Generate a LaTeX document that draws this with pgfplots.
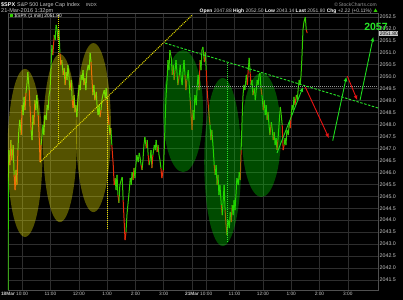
\documentclass[border=0pt]{standalone}
\usepackage{pgfplots}
\pgfplotsset{compat=1.18}
\usepackage{pgfplotstable}
\usepackage{fontspec}
\setmainfont{Liberation Sans}
\usetikzlibrary{arrows.meta}
\definecolor{gridc}{RGB}{46,46,46}
\definecolor{framec}{RGB}{80,80,80}
\definecolor{lblc}{RGB}{200,200,200}
\definecolor{upg}{RGB}{50,205,0}
\definecolor{dnr}{RGB}{230,45,10}
\definecolor{ydot}{RGB}{235,225,0}
\definecolor{gline}{RGB}{40,230,40}
\definecolor{garrow}{RGB}{30,220,30}
\definecolor{rarrow}{RGB}{235,20,20}
\definecolor{pcg}{RGB}{150,150,150}
\definecolor{ellY}{RGB}{255,250,0}
\definecolor{ellG}{RGB}{0,235,0}
\pgfplotsset{colormap={updown}{rgb255=(50,205,0) rgb255=(230,45,10)}}

\pgfplotstableread{
t p c
0 2041.08 0
1 2045.89 0
2 2046.93 0
4 2046.30 1
6 2047.35 0
8 2046.51 1
11 2047.14 0
13 2045.89 1
15 2045.26 1
17 2046.10 0
19 2045.47 1
21 2046.93 0
23 2047.77 0
25 2048.19 0
28 2047.56 1
30 2048.81 0
32 2048.39 0
34 2049.15 0
36 2048.60 1
38 2049.31 0
40 2049.65 0
42 2050.19 0
45 2049.44 1
47 2048.60 1
49 2047.77 0
51 2047.35 0
53 2048.39 0
55 2047.98 1
57 2049.02 0
59 2048.60 0
61 2049.23 0
64 2048.39 1
66 2047.56 1
68 2046.43 1
70 2047.14 0
72 2047.47 0
74 2047.98 0
76 2047.56 0
78 2048.39 0
81 2048.19 0
83 2048.81 0
85 2048.60 0
87 2049.23 0
89 2049.44 0
91 2050.27 0
93 2051.32 0
95 2050.90 1
98 2051.74 0
100 2051.53 0
102 2052.16 0
104 2051.95 0
106 2051.53 1
108 2051.95 0
110 2050.99 1
112 2050.48 1
114 2050.69 0
117 2050.07 1
119 2050.36 0
121 2049.65 1
123 2050.19 0
125 2049.86 0
127 2050.48 0
129 2050.07 0
131 2049.44 1
134 2049.86 0
136 2049.02 1
138 2048.69 1
140 2049.23 0
142 2048.52 1
144 2048.81 0
146 2048.31 0
148 2049.02 0
151 2049.65 0
153 2049.44 0
155 2050.07 0
157 2049.86 0
159 2050.27 0
161 2049.65 1
163 2049.94 0
165 2049.44 0
167 2050.19 0
170 2050.48 0
172 2050.27 0
174 2050.99 0
176 2050.61 1
178 2049.86 1
180 2049.23 0
182 2049.65 0
184 2049.02 1
187 2049.36 0
189 2048.69 0
191 2048.39 0
193 2048.81 0
195 2048.31 1
197 2048.60 0
199 2049.02 0
201 2049.23 0
204 2049.44 0
206 2049.10 0
208 2049.52 0
210 2049.02 1
212 2048.39 1
214 2047.98 0
216 2047.56 1
218 2047.85 0
220 2047.14 1
223 2046.30 1
225 2045.47 1
227 2045.76 0
229 2045.26 0
231 2045.89 0
233 2045.05 1
235 2044.72 0
237 2045.47 0
240 2045.68 0
242 2045.80 0
244 2044.84 1
246 2044.01 1
248 2043.17 1
250 2043.50 0
252 2044.21 0
254 2044.63 0
257 2045.26 0
259 2045.76 0
261 2045.47 0
263 2046.01 0
265 2045.68 1
267 2046.18 0
269 2045.76 0
271 2046.30 0
273 2046.72 0
276 2046.43 0
278 2046.81 0
280 2046.60 0
282 2046.30 1
284 2046.10 0
286 2046.51 0
288 2047.14 0
290 2047.47 0
293 2047.02 1
295 2047.35 0
297 2046.72 1
299 2046.30 0
301 2046.51 0
303 2046.93 0
305 2046.18 1
307 2046.72 0
310 2047.14 0
312 2046.93 0
314 2047.35 0
316 2046.85 1
318 2047.14 0
320 2046.72 0
322 2046.51 0
324 2046.18 1
326 2045.76 1
329 2046.10 0
331 2046.93 0
333 2048.19 0
335 2049.23 0
337 2049.86 0
339 2050.69 0
341 2050.27 0
343 2051.11 0
346 2050.78 0
348 2050.07 1
350 2050.48 0
352 2049.86 1
354 2050.27 0
356 2050.69 0
358 2050.19 0
360 2049.65 1
363 2050.07 0
365 2050.48 0
367 2049.94 0
369 2049.65 0
371 2050.27 0
373 2050.69 0
375 2050.07 1
377 2049.44 1
379 2049.86 0
382 2050.27 0
384 2049.65 0
386 2049.02 1
388 2048.39 1
390 2047.77 1
392 2048.60 0
394 2048.19 0
396 2049.23 0
399 2048.81 0
401 2049.65 0
403 2050.07 0
405 2049.44 1
407 2050.69 0
409 2050.27 0
411 2051.11 0
413 2051.24 0
416 2050.61 1
418 2051.03 0
420 2050.27 1
422 2049.44 1
424 2048.90 1
426 2048.39 1
428 2047.98 0
430 2047.35 1
432 2047.77 0
435 2046.93 0
437 2046.30 1
439 2045.89 0
441 2046.30 0
443 2045.47 1
445 2045.89 0
447 2045.05 0
449 2045.47 0
452 2044.63 1
454 2044.21 0
456 2044.84 0
458 2045.47 0
460 2044.42 1
462 2043.80 1
464 2043.38 0
466 2044.01 0
469 2043.67 0
471 2044.34 0
473 2043.92 1
475 2044.63 0
477 2044.21 0
479 2044.84 0
481 2044.42 0
483 2045.05 0
485 2045.76 0
488 2045.47 0
490 2046.01 0
492 2045.68 1
494 2046.93 0
496 2048.19 0
498 2049.23 0
500 2049.65 0
502 2049.44 0
505 2050.07 0
507 2049.65 1
509 2050.27 0
511 2050.78 0
513 2050.19 1
515 2049.65 0
517 2049.86 0
519 2049.23 1
522 2049.52 0
524 2049.02 0
526 2049.44 0
528 2049.86 0
530 2049.65 0
532 2050.07 0
534 2050.15 0
536 2049.52 1
538 2049.23 0
541 2048.60 1
543 2049.02 0
545 2048.39 0
547 2048.81 0
549 2048.19 1
551 2048.52 0
553 2047.98 0
555 2047.56 1
558 2048.10 0
560 2047.77 0
562 2047.35 1
564 2047.68 0
566 2047.14 0
568 2047.43 0
570 2046.93 1
572 2047.35 0
575 2048.19 0
577 2048.73 0
579 2048.39 0
581 2047.98 1
583 2046.93 1
585 2047.14 0
587 2047.43 0
589 2047.14 0
591 2047.77 0
594 2047.56 0
596 2048.10 0
598 2047.85 1
600 2048.39 0
602 2048.81 0
604 2048.60 0
606 2049.15 0
608 2048.81 1
611 2049.23 0
613 2049.02 0
615 2049.52 0
617 2049.86 0
619 2049.65 0
621 2050.07 0
623 2050.90 0
625 2051.95 0
627 2052.28 0
630 2052.49 0
632 2051.95 1
634 2051.82 1
}\spx

\begin{document}
\begin{tikzpicture}[x=1bp,y=1bp]
\fill[black] (0,0) rectangle (403,300);
\useasboundingbox (0,0) rectangle (403,300);
\begin{axis}[
  at={(8bp,10bp)}, anchor=south west,
  scale only axis, width=370bp, height=277bp,
  xmin=0, xmax=784, ymin=2041.08, ymax=2052.66,
  axis background/.style={fill=black},
  axis line style={draw=framec, line width=0.5bp},
  grid=major, major grid style={draw=gridc, line width=0.5bp},
  major tick length=0pt, tick style={draw=none},
  xtick={0,30,90,150,210,270,330,390,420,480,540,600,660,720},
  xticklabels={\textbf{18Mar},10:00,11:00,12:00,1:00,2:00,3:00,\textbf{21Mar},10:00,11:00,12:00,1:00,2:00,3:00},
  xticklabel style={font=\fontsize{4.8}{5}\selectfont, text=lblc, anchor=north, inner sep=1.5bp},
  ytick={2041.5,2042,2042.5,2043,2043.5,2044,2044.5,2045,2045.5,2046,2046.5,2047,2047.5,2048,2048.5,2049,2049.5,2050,2050.5,2051,2051.5,2052,2052.5},
  ytick pos=right, yticklabel pos=right,
  scaled y ticks=false,
  yticklabel style={font=\fontsize{5.3}{5.5}\selectfont, text=lblc, anchor=west, inner sep=1.5bp,
    /pgf/number format/fixed, /pgf/number format/fixed zerofill,
    /pgf/number format/precision=1, /pgf/number format/1000 sep={},
    /pgf/number format/assume math mode=true},
]
\addplot[mesh, shader=flat corner, colormap name=updown, point meta=explicit,
  point meta min=0, point meta max=1, line width=1bp] table[x=t, y=p, meta=c] {\spx};

% ellipses
\fill[ellY, fill opacity=0.33] (axis cs:36,2046.81) ellipse [x radius=17.5bp, y radius=84bp];
\fill[ellY, fill opacity=0.33] (axis cs:110,2047.43) ellipse [x radius=17bp, y radius=84bp];
\fill[ellY, fill opacity=0.33] (axis cs:181,2047.87) ellipse [x radius=17.5bp, y radius=84.5bp];
\fill[ellG, fill opacity=0.32] (axis cs:371,2048.56) ellipse [x radius=20bp, y radius=61bp];
\fill[ellG, fill opacity=0.32] (axis cs:455,2046.43) ellipse [x radius=18.5bp, y radius=84bp];
\fill[ellG, fill opacity=0.32] (axis cs:537,2047.56) ellipse [x radius=19.5bp, y radius=62bp];

% yellow dotted lines
\draw[ydot, line width=1bp, dash pattern=on 1bp off 1bp] (axis cs:68,2046.43) -- (axis cs:390,2052.57);
\draw[ydot, line width=1bp, dash pattern=on 1bp off 1bp] (axis cs:106,2052.57) -- (axis cs:106,2047.14);
\draw[ydot, line width=1bp, dash pattern=on 1bp off 1bp] (axis cs:210,2049.10) -- (axis cs:210,2043.59);
% previous close
\draw[pcg, line width=1bp, dash pattern=on 1bp off 1bp] (axis cs:390,2049.58) -- (axis cs:784,2049.58);
% green lines
\draw[gline, line width=0.9bp, dash pattern=on 2.5bp off 1.5bp] (axis cs:333,2051.40) -- (axis cs:784,2048.69);
\draw[gline, line width=0.9bp, dash pattern=on 1bp off 1bp] (axis cs:464,2050.57) -- (axis cs:464,2043.10);
% arrows
\draw[garrow, line width=0.9bp, -{Latex[length=4.5bp,width=4bp]}] (axis cs:570,2046.81) -- (axis cs:625,2049.56);
\draw[rarrow, line width=0.9bp, -{Latex[length=4.5bp,width=4bp]}] (axis cs:630,2049.56) -- (axis cs:680,2047.43);
\draw[garrow, line width=0.9bp, -{Latex[length=4.5bp,width=4bp]}] (axis cs:688,2047.32) -- (axis cs:717,2049.99);
\draw[rarrow, line width=0.9bp, -{Latex[length=4.5bp,width=4bp]}] (axis cs:719,2050.02) -- (axis cs:740,2049.02);
\draw[garrow, line width=0.9bp, -{Latex[length=4.5bp,width=4bp]}] (axis cs:746,2049.02) -- (axis cs:774,2051.66);
\end{axis}

% header line 1
\node[anchor=base west, inner sep=0pt, text=white, font=\fontsize{5.5}{6}\selectfont\bfseries] at (1,293.5) {\$SPX};
\node[anchor=base west, inner sep=0pt, text=lblc, font=\fontsize{5.4}{6}\selectfont] at (17,293.5) {S\&P 500 Large Cap Index};
\node[anchor=base west, inner sep=0pt, text=lblc, font=\fontsize{4.5}{5}\selectfont] at (86,293.5) {INDX};
\node[anchor=base east, inner sep=0pt, text=pcg, font=\fontsize{5}{5.5}\selectfont] at (377,293.5) {\textcopyright\,StockCharts.com};
% header line 2
\node[anchor=base west, inner sep=0pt, text=lblc, font=\fontsize{5.6}{6}\selectfont] at (1,288) {21-Mar-2016 1:32pm};
\node[anchor=base east, inner sep=0pt, text=lblc, font=\fontsize{5}{5.5}\selectfont] at (372,288)
  {\textcolor{white}{\bfseries Open} 2047.88 \textcolor{white}{\bfseries High} 2052.50 \textcolor{white}{\bfseries Low} 2043.14 \textcolor{white}{\bfseries Last} 2051.80 \textcolor{white}{\bfseries Chg} +2.22 (+0.11\%)};
\fill[upg] (373.5,288) -- (377.5,288) -- (375.5,291.5) -- cycle;
% legend
\fill[upg] (10,283) rectangle (13,286);
\node[anchor=base west, inner sep=0pt, text=white, font=\fontsize{4.8}{5}\selectfont] at (14.5,283) {\$SPX (1 min) 2051.80};
% last price box
\node[anchor=west, fill=lblc, text=black, inner sep=0.6bp, font=\fontsize{5}{5.5}\selectfont] at (379,266.5) {2051.80};
% target text
\node[anchor=base, inner sep=0pt, text=gline, font=\fontsize{10.5}{11}\selectfont\bfseries] at (376,269.5) {2057};
\end{tikzpicture}
\end{document}
